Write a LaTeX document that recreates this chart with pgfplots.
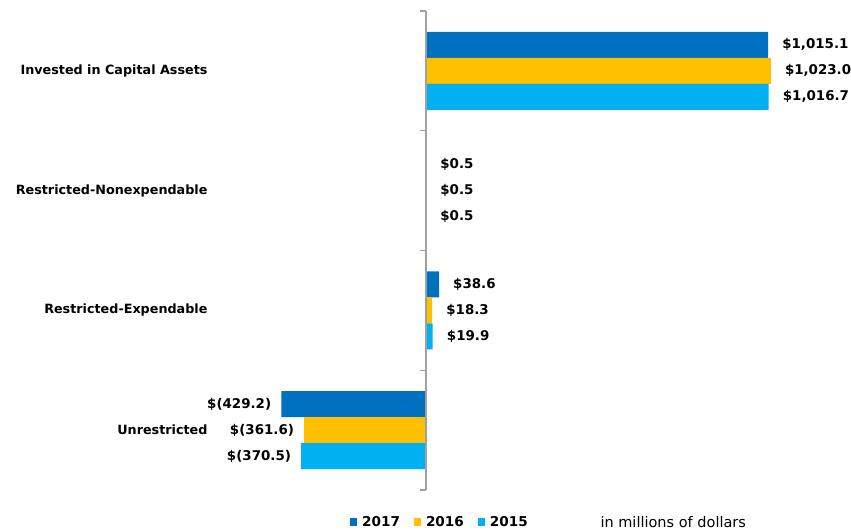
\documentclass[border=0pt]{standalone}
\usepackage{fontspec}
\setmainfont{DejaVu Sans}
\usepackage{pgfplots}
\usepackage{pgfplotstable}
\pgfplotsset{compat=1.18}
\definecolor{c17}{HTML}{0070C0}
\definecolor{c16}{HTML}{FFC000}
\definecolor{c15}{HTML}{00B0F0}
\definecolor{axgray}{HTML}{A0A0A0}

\pgfplotstableread{
v c lab
1015.1 3 \$1,015.1
0.5 2 \$0.5
38.6 1 \$38.6
-429.2 0 \$(429.2)
}\tseventeen
\pgfplotstableread{
v c lab
1023.0 3 \$1,023.0
0.5 2 \$0.5
18.3 1 \$18.3
-361.6 0 \$(361.6)
}\tsixteen
\pgfplotstableread{
v c lab
1016.7 3 \$1,016.7
0.5 2 \$0.5
19.9 1 \$19.9
-370.5 0 \$(370.5)
}\tfifteen

\begin{document}
\begin{tikzpicture}[x=1pt,y=1pt]
\begin{axis}[
  at={(211pt,41pt)}, anchor=south west,
  scale only axis, width=636.3pt, height=479pt,
  xbar, bar width=26pt,
  xmin=-638, xmax=1250, ymin=-0.5, ymax=3.5,
  hide x axis,
  y axis line style={draw=none},
  ytick={0,1,2,3},
  yticklabels={Unrestricted,Restricted-Expendable,Restricted-Nonexpendable,Invested in Capital Assets},
  major tick length=0pt,
  ytick style={draw=none},
  yticklabel style={font=\bfseries\fontsize{12.75}{15}\selectfont, text=black},
  clip=false,
  nodes near coords, point meta=explicit symbolic,
  visualization depends on={rawx \as \myx},
  every node near coord/.append style={font=\bfseries\fontsize{13.4}{15}\selectfont, text=black, inner sep=6pt,
    anchor={\ifdim\myx pt<0pt east\else west\fi},
    xshift={\ifdim\myx pt<0pt -4pt\else 8pt\fi}},
  legend columns=3,
  legend style={at={(0.2137,-0.0668)}, anchor=west, draw=none, fill=none,
    font=\bfseries\fontsize{13.6}{15}\selectfont,
    /tikz/every odd column/.append style={column sep=3pt},
    /tikz/every even column/.append style={column sep=12pt}},
  legend image code/.code={\fill[#1] (0pt,-4pt) rectangle (7pt,4pt);},
]
\addplot[xbar, bar shift=26pt, fill=c17, draw=none] table[x=v,y=c,meta=lab]{\tseventeen};
\addplot[xbar, bar shift=0pt, fill=c16, draw=none] table[x=v,y=c,meta=lab]{\tsixteen};
\addplot[xbar, bar shift=-26pt, fill=c15, draw=none] table[x=v,y=c,meta=lab]{\tfifteen};
\legend{2017,2016,2015}
\draw[axgray, line width=1.2pt] (axis cs:0,-0.5) -- (axis cs:0,3.5);
\draw[axgray, line width=1.2pt] (axis cs:0,-0.5) -- ++(-6pt,0pt);
\draw[axgray, line width=1.2pt] (axis cs:0,0.5) -- ++(-6pt,0pt);
\draw[axgray, line width=1.2pt] (axis cs:0,1.5) -- ++(-6pt,0pt);
\draw[axgray, line width=1.2pt] (axis cs:0,2.5) -- ++(-6pt,0pt);
\draw[axgray, line width=1.2pt] (axis cs:0,3.5) -- ++(-6pt,0pt);
\end{axis}
\node[anchor=west, font=\fontsize{14.5}{16}\selectfont] at (597,9) {in millions of dollars};
\pgfresetboundingbox
\path[use as bounding box] (0,0) rectangle (851,531);
\end{tikzpicture}
\end{document}
